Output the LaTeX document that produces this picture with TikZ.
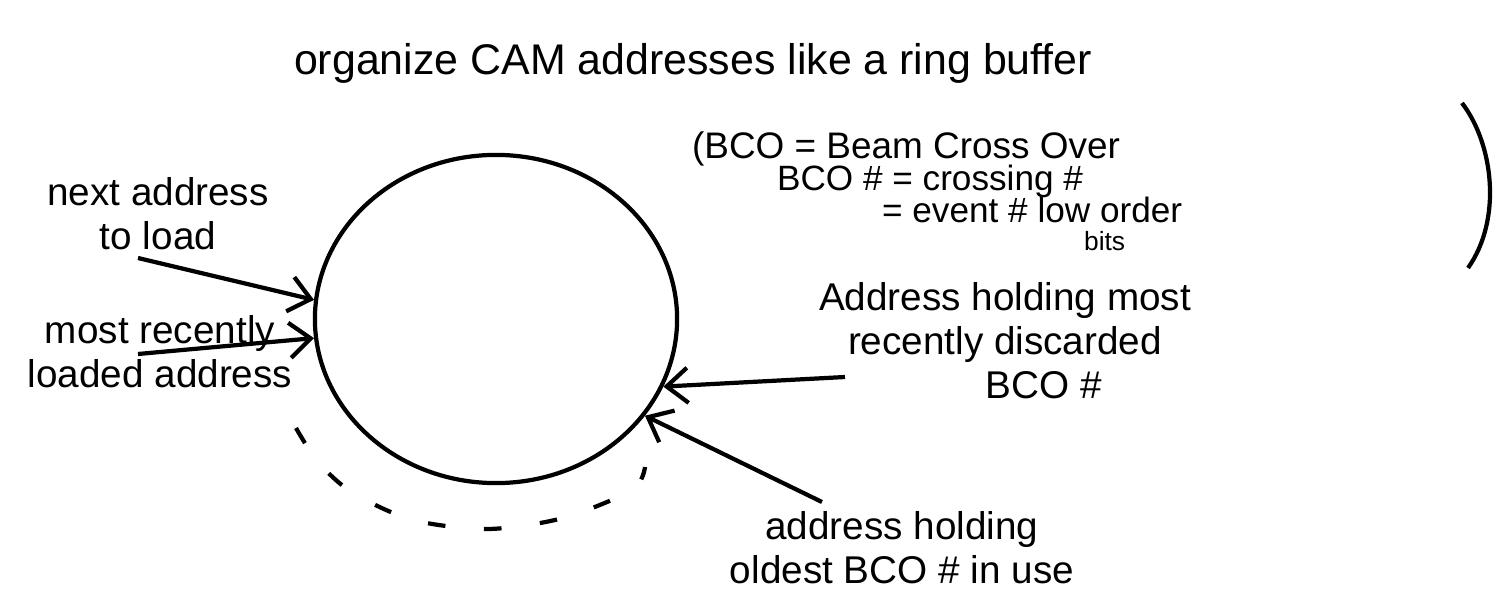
\documentclass[tikz,border=0pt]{standalone}
\usepackage{fontspec}
\setmainfont{Liberation Sans}
\usetikzlibrary{arrows.meta,shapes.geometric}

\begin{document}
\begin{tikzpicture}[x=0.01cm,y=-0.01cm,line width=1.2pt,
  lbl/.style={font=\fontsize{11}{12.5}\selectfont,align=center,inner sep=0pt},
  ptr/.style={-{Straight Barb[length=6pt,width=10pt]}}]
\useasboundingbox (0,0) rectangle (1499,594);

\node[font=\fontsize{12.2}{14}\selectfont,anchor=base west,inner sep=0pt] (title) at (292,74) {organize CAM addresses like a ring buffer};

\node[lbl,anchor=base west,font=\fontsize{10.5}{12}\selectfont] (bco1) at (690,158) {(BCO = Beam Cross Over};
\node[lbl,anchor=base west,font=\fontsize{10}{12}\selectfont] (bco2) at (775,190) {BCO \# = crossing \#};
\node[lbl,anchor=base west,font=\fontsize{10}{12}\selectfont] (bco3) at (880,222) {= event \# low order};
\node[lbl,anchor=base west,font=\fontsize{7.5}{9}\selectfont] (bco4) at (1082,250) {bits};
\draw (1462,103) .. controls (1494,145) and (1502,220) .. (1468,268);

\node[draw,ellipse,minimum width=3.62cm,minimum height=3.28cm,inner sep=0pt] (ring) at (496,319) {};
\draw[dash pattern=on 5pt off 11pt] plot[smooth] coordinates {(296,428) (318,462) (353,493) (413,520) (488,529) (563,518) (632,490) (645,467)};

\node[lbl] (next) at (158,214) {next address\\to load};
\node[lbl] (loaded) at (160,352) {most recently\\loaded address};
\node[lbl] (discard) at (1005,341) {Address holding most\\recently discarded\\\hspace*{2em}BCO \#};
\node[lbl] (oldest) at (902,548) {address holding\\oldest BCO \# in use};

\coordinate (nexttail) at (138,258);
\coordinate (loadedtail) at (138,354);
\coordinate (discardtail) at (845,377);
\coordinate (oldesttail) at (822,502);

\draw[ptr] (nexttail) -- (ring.174);
\draw[ptr] (loadedtail) -- (ring.186);
\draw[ptr] (discardtail) -- (ring.-22);
\draw[ptr] (oldesttail) -- (ring.-33);
\end{tikzpicture}
\end{document}
